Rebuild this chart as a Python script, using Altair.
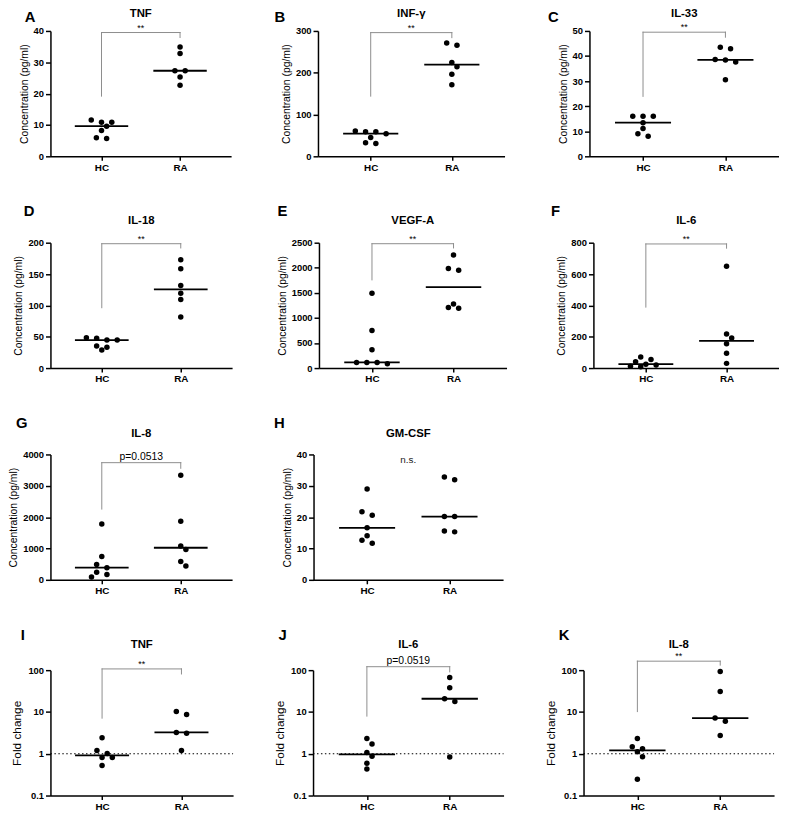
import altair as alt
import pandas as pd
import numpy as np

FONT = "Liberation Sans, Arial, Helvetica, sans-serif"

groups = ["HC", "RA"]

# Concentration panels (pg/ml)
tnf_hc = [11.6, 10.9, 10.9, 9.6, 8.2, 5.9, 5.7]
tnf_ra = [34.9, 32.8, 27.3, 27.3, 25.3, 22.7]
ifng_hc = [60.5, 58.9, 58.9, 54.2, 44.8, 32.2, 30.6]
ifng_ra = [271, 266, 224.7, 214.5, 196.4, 171.2]
il33_hc = [16.0, 16.0, 16.0, 13.4, 11.1, 9.0, 8.0]
il33_ra = [43.5, 42.9, 38.6, 38.4, 37.6, 30.5]
il18_hc = [48.4, 47.4, 44.7, 44.7, 35.3, 33.2, 29.0]
il18_ra = [173, 158.4, 131.6, 119.5, 109.5, 81.6]
vegf_hc = [1490, 748, 367, 112, 112, 112, 87]
vegf_ra = [2257, 1988, 1949, 1280, 1207, 1194]
il6_hc = [70, 55, 40, 25, 20, 12, 8]
il6_ra = [650, 217, 192, 155, 95, 30]
il8_hc = [1785, 745, 493, 388, 241, 168, 94]
il8_ra = [3339, 1869, 1081, 966, 588, 441]
gmcsf_hc = [29.0, 21.7, 20.6, 16.6, 14.1, 12.6, 11.7]
gmcsf_ra = [32.8, 31.9, 20.2, 20.2, 15.6, 15.3]

# Fold-change panels
tnf_fc_hc = [2.42, 1.2, 1.02, 0.81, 0.81, 0.52]
tnf_fc_ra = [10.2, 8.7, 3.23, 3.11, 1.2]
il6_fc_hc = [2.33, 1.72, 1.07, 0.865, 0.59, 0.43]
il6_fc_ra = [66.8, 38, 20.7, 17.9, 0.835]
il8_fc_hc = [2.33, 1.46, 1.31, 1.11, 0.85, 0.245]
il8_fc_ra = [92.4, 30.8, 7.14, 5.96, 2.75]

# y-axis ticks
ticks_a = [0, 10, 20, 30, 40]
ticks_b = [0, 100, 200, 300]
ticks_c = [0, 10, 20, 30, 40, 50]
ticks_d = [0, 50, 100, 150, 200]
ticks_e = [0, 500, 1000, 1500, 2000, 2500]
ticks_f = [0, 200, 400, 600, 800]
ticks_g = [0, 1000, 2000, 3000, 4000]
ticks_h = [0, 10, 20, 30, 40]
ticks_log = [0.1, 1, 10, 100]

# significance brackets: HC leg start, top, RA leg end
br_a = [19.2, 39.5, 37.9]
br_b = [144, 296, 284]
br_c = [23.9, 49.5, 47.5]
br_d = [96.3, 198.4, 191.6]
br_e = [1759, 2480, 2395]
br_f = [389, 792, 765]
br_g = [2257, 3738, 3559]
br_i = [7.1, 107, 81]
br_j = [7.95, 121, 91]
br_k = [10.2, 164, 132]
ns_h = 37.3

CONC = "Concentration (pg/ml)"
FOLD = "Fold change"

panels = {
    "A": dict(title="TNF", hc=tnf_hc, ra=tnf_ra, ticks=ticks_a, log=False, br=br_a, lab="**", yt=CONC),
    "B": dict(title="INF-γ", hc=ifng_hc, ra=ifng_ra, ticks=ticks_b, log=False, br=br_b, lab="**", yt=CONC),
    "C": dict(title="IL-33", hc=il33_hc, ra=il33_ra, ticks=ticks_c, log=False, br=br_c, lab="**", yt=CONC),
    "D": dict(title="IL-18", hc=il18_hc, ra=il18_ra, ticks=ticks_d, log=False, br=br_d, lab="**", yt=CONC),
    "E": dict(title="VEGF-A", hc=vegf_hc, ra=vegf_ra, ticks=ticks_e, log=False, br=br_e, lab="**", yt=CONC),
    "F": dict(title="IL-6", hc=il6_hc, ra=il6_ra, ticks=ticks_f, log=False, br=br_f, lab="**", yt=CONC),
    "G": dict(title="IL-8", hc=il8_hc, ra=il8_ra, ticks=ticks_g, log=False, br=br_g, lab="p=0.0513", yt=CONC),
    "H": dict(title="GM-CSF", hc=gmcsf_hc, ra=gmcsf_ra, ticks=ticks_h, log=False, br=None, lab="n.s.", yt=CONC),
    "I": dict(title="TNF", hc=tnf_fc_hc, ra=tnf_fc_ra, ticks=ticks_log, log=True, br=br_i, lab="**", yt=FOLD),
    "J": dict(title="IL-6", hc=il6_fc_hc, ra=il6_fc_ra, ticks=ticks_log, log=True, br=br_j, lab="p=0.0519", yt=FOLD),
    "K": dict(title="IL-8", hc=il8_fc_hc, ra=il8_fc_ra, ticks=ticks_log, log=True, br=br_k, lab="**", yt=FOLD),
}

# layout (pixels)
H = 127
rows_layout = [
    dict(keys=["A", "B", "C"], widths=[183, 189, 192], spacing=44, ly=-21, ty=-23),
    dict(keys=["D", "E", "F"], widths=[184, 190, 188], spacing=45, ly=-39, ty=-28),
    dict(keys=["G", "H"], widths=[184, 192], spacing=42.5, ly=-38.5, ty=-26.5),
    dict(keys=["I", "J", "K"], widths=[185, 193, 193], spacing=40, ly=-43, ty=-31.5),
]
letter_x = {"A": -26, "B": -44, "C": -42, "D": -27, "E": -42, "F": -43,
            "G": -35, "H": -40, "I": -30, "J": -35, "K": -25}

XDOM = [-0.65, 1.65]


def swarm(values, to_px, s=10.4, lim=5.8, join=3.5):
    order = sorted(range(len(values)), key=lambda i: -values[i])
    clusters = []
    for i in order:
        y = to_px(values[i])
        if clusters and clusters[-1][0][1] - y < join:
            clusters[-1].append((i, y))
        else:
            clusters.append([(i, y)])
    out = [0.0] * len(values)
    placed = []
    for cl in clusters:
        n = len(cl)
        base = [(k - (n - 1) / 2) * s for k in range(n)]
        chosen = 0
        for shift in [0, s / 2, -s / 2, s, -s, 1.5 * s, -1.5 * s, 2 * s, -2 * s]:
            ok = all(((bx + shift - px) ** 2 + (y - py) ** 2) >= lim ** 2
                     for bx, (i, y) in zip(base, cl) for (px, py) in placed)
            if ok:
                chosen = shift
                break
        for bx, (i, y) in zip(base, cl):
            out[i] = bx + chosen
            placed.append((bx + chosen, y))
    return out


def make_panel(key, w, h, lx, ly, ty):
    p = panels[key]
    ticks = p["ticks"]
    lo, hi = ticks[0], ticks[-1]
    log = p["log"]
    f = np.log10 if log else (lambda v: v)

    def to_px(v):
        return h * (f(v) - f(lo)) / (f(hi) - f(lo))

    pxu = w / (XDOM[1] - XDOM[0])
    pts = []
    meds = []
    for gi, vals in enumerate([p["hc"], p["ra"]]):
        offs = swarm(vals, to_px)
        for v, o in zip(vals, offs):
            pts.append({"g": groups[gi], "x": gi + o / pxu, "v": v})
        meds.append({"x": gi - 0.34, "x2": gi + 0.34, "v": float(np.median(vals))})
    df = pd.DataFrame(pts)
    med = pd.DataFrame(meds)

    xs = alt.Scale(domain=XDOM, nice=False, zero=False)
    if log:
        ys = alt.Scale(type="log", domain=[lo, hi], nice=False)
    else:
        ys = alt.Scale(domain=[lo, hi], nice=False, zero=False)
    label_expr = "[" + ",".join("'%s'" % g for g in groups) + "][datum.value]"
    xaxis = alt.Axis(values=[0, 1], labelExpr=label_expr, title=None, grid=False,
                     labelFontSize=10, tickSize=4)
    yaxis = alt.Axis(values=ticks, format="~g" if log else "d", title=p["yt"], grid=False,
                     titleFontSize=12 if log else 10.5)

    X = alt.X("x:Q", scale=xs, axis=xaxis)
    Y = alt.Y("v:Q", scale=ys, axis=yaxis)

    layers = []
    if log:
        ref = pd.DataFrame([{"x": XDOM[0], "x2": XDOM[1], "v": 1}])
        layers.append(alt.Chart(ref).mark_rule(color="black", strokeWidth=1.2, strokeDash=[1.5, 2.5])
                      .encode(x=X, x2="x2:Q", y=Y))
    if p["br"] is not None:
        b0, bt, b1 = p["br"]
        bdf = pd.DataFrame([
            {"x": 0, "x2": 0, "v": b0, "v2": bt},
            {"x": 0, "x2": 1, "v": bt, "v2": bt},
            {"x": 1, "x2": 1, "v": bt, "v2": b1},
        ])
        layers.append(alt.Chart(bdf).mark_rule(color="#8c8c8c", strokeWidth=1, strokeCap="square")
                      .encode(x=X, x2="x2:Q", y=Y, y2="v2:Q"))
        tdf = pd.DataFrame([{"x": 0.5, "v": bt, "t": p["lab"]}])
        small = p["lab"] == "**"
        layers.append(alt.Chart(tdf).mark_text(font=FONT, fontSize=9 if small else 10.5, color="black",
                                               baseline="alphabetic", dy=-2 if small else -2.5)
                      .encode(x=X, y=Y, text="t:N"))
    else:
        tdf = pd.DataFrame([{"x": 0.5, "v": ns_h, "t": p["lab"]}])
        layers.append(alt.Chart(tdf).mark_text(font=FONT, fontSize=10, color="#222222",
                                               baseline="alphabetic")
                      .encode(x=X, y=Y, text="t:N"))
    layers.append(alt.Chart(df).mark_circle(size=31, color="black", opacity=1).encode(x=X, y=Y))
    layers.append(alt.Chart(med).mark_rule(color="black", strokeWidth=1.8).encode(x=X, x2="x2:Q", y=Y))

    letter = alt.Chart(pd.DataFrame({"t": [key]})).mark_text(
        font=FONT, fontSize=15, fontWeight="bold", color="black", align="left", baseline="top"
    ).encode(text="t:N", x=alt.value(lx), y=alt.value(ly))
    title = alt.Chart(pd.DataFrame({"t": [p["title"]]})).mark_text(
        font=FONT, fontSize=11.5, fontWeight="bold", color="black", align="center", baseline="top"
    ).encode(text="t:N", x=alt.value(w / 2), y=alt.value(ty))
    layers += [letter, title]
    return alt.layer(*layers).properties(width=w, height=h)


rows = []
for r in rows_layout:
    charts = [make_panel(k, w, H, letter_x[k], r["ly"], r["ty"]) for k, w in zip(r["keys"], r["widths"])]
    rows.append(alt.hconcat(*charts, spacing=r["spacing"]))

chart = alt.vconcat(*rows, spacing=32.5)

chart = chart.properties(padding={"left": 0, "top": -5, "right": 0, "bottom": 0}).configure_view(
    stroke=None).configure_axis(
    domainColor="black", domainWidth=1.5, tickColor="black", tickWidth=1.5, tickSize=5,
    labelFont=FONT, labelFontWeight="bold", labelColor="black", labelFontSize=9.5, labelPadding=2,
    titleFont=FONT, titleFontWeight="normal", titleColor="black", titlePadding=4, grid=False,
)

chart.save("out.html", embed_options={"renderer": "svg", "actions": False})
